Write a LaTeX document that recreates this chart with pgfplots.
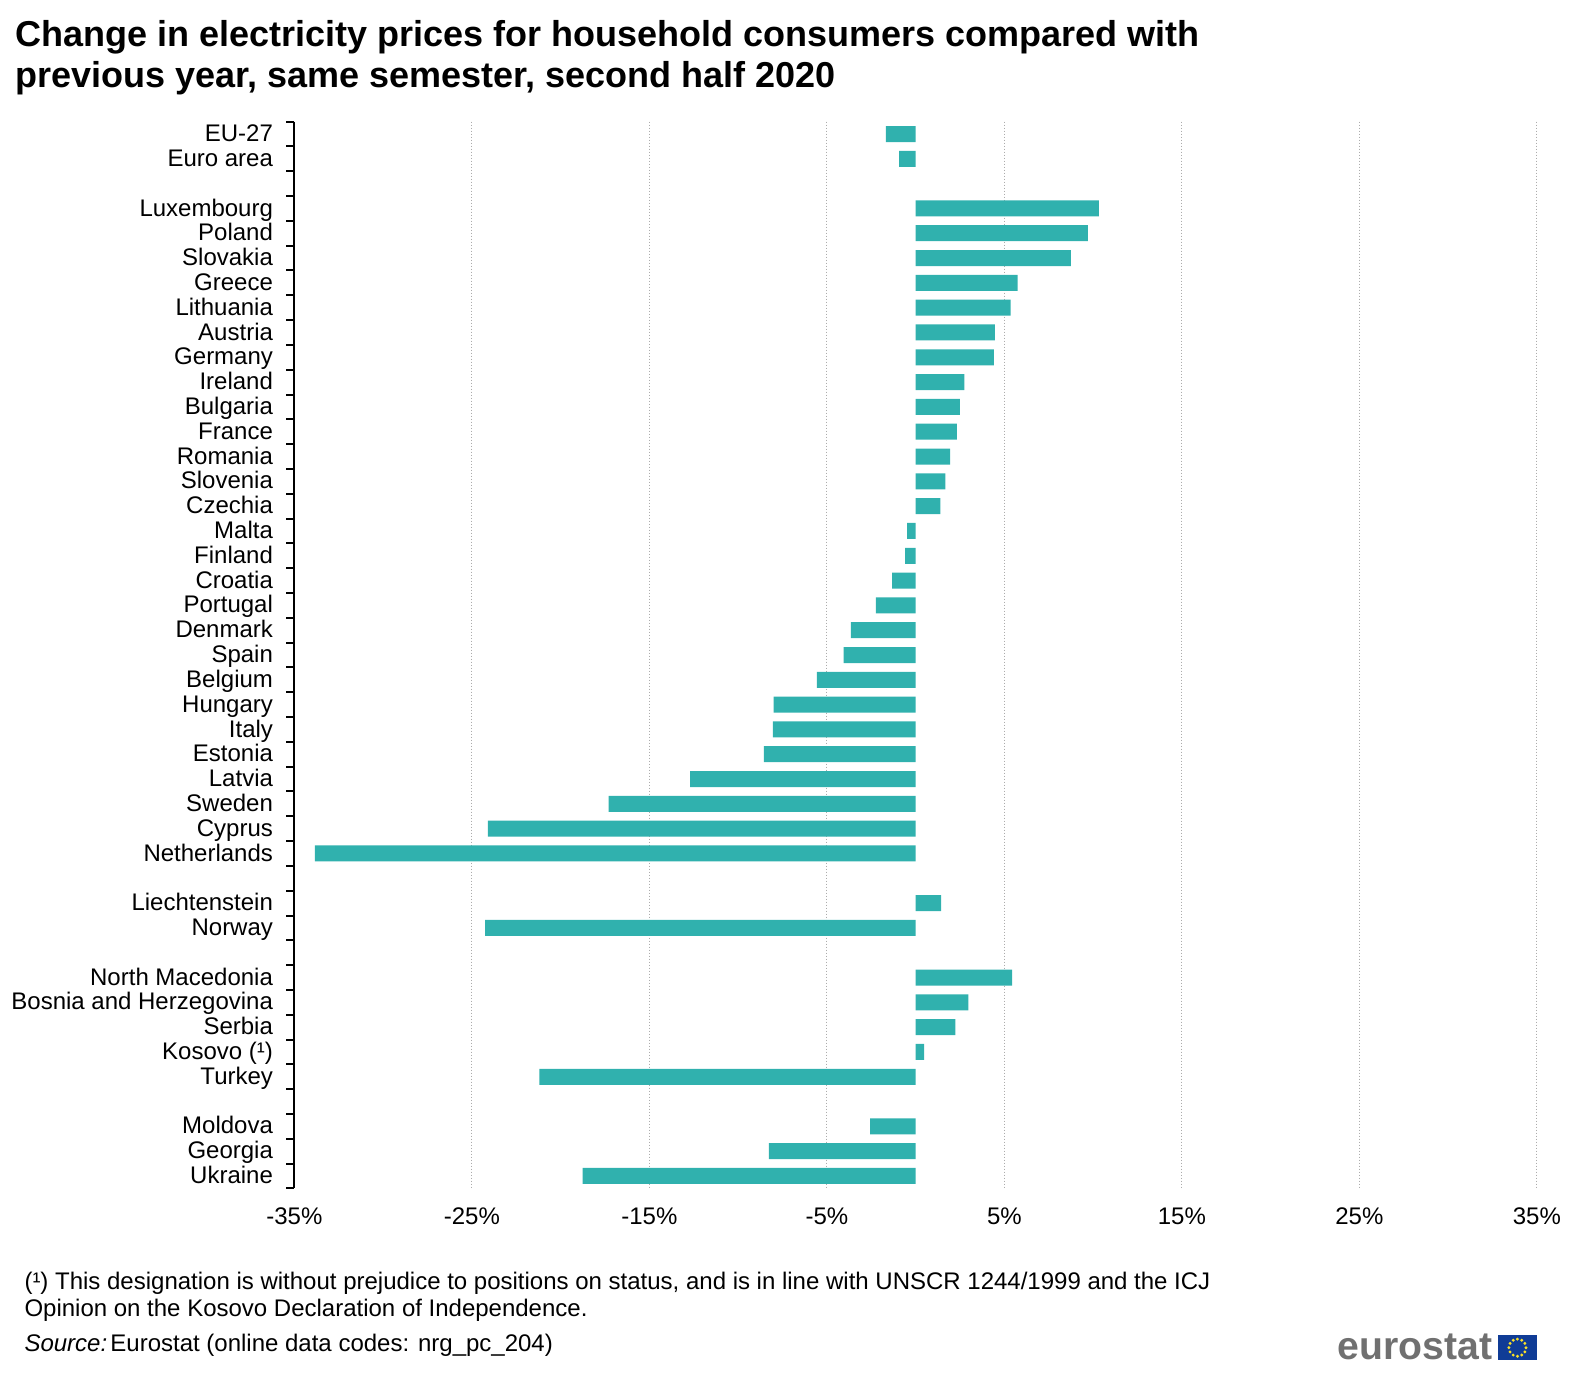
\documentclass[border=0pt]{standalone}
\usepackage{pgfplots}
\pgfplotsset{compat=1.18}
\usepackage{fontspec}
\setmainfont{Liberation Sans}
\definecolor{barc}{RGB}{48,177,174}
\definecolor{logogrey}{RGB}{112,112,112}
\definecolor{eublue}{RGB}{16,60,150}
\definecolor{euyellow}{RGB}{250,225,40}
\begin{document}
\begin{tikzpicture}[x=0.5023pt,y=-0.5023pt]
\path[use as bounding box] (0,0) rectangle (1567.8,1367.8);
\begin{axis}[
  at={(147.17pt,-594.2pt)}, anchor=south west,
  scale only axis, width=621.3pt, height=533.4pt,
  xmin=-35, xmax=35, ymin=-0.5, ymax=42.5, y dir=reverse,
  axis y line=left, axis x line=bottom,
  x axis line style={draw=none,-},
  y axis line style={-,line width=1pt,black},
  xtick={-35,-25,-15,-5,5,15,25,35},
  xticklabels={-35\%,-25\%,-15\%,-5\%,5\%,15\%,25\%,35\%},
  xmajorgrids,
  grid style={line width=0.45pt,gray!65,dash pattern=on 0.9pt off 0.6pt},
  major x tick style={draw=none},
  xticklabel style={font=\fontsize{12pt}{14pt}\selectfont,inner sep=0pt,text height=8.5pt,text depth=0pt,anchor=north,yshift=-9.5pt},
  ytick={0,...,42},
  yticklabels={EU-27,Euro area,,Luxembourg,Poland,Slovakia,Greece,Lithuania,Austria,Germany,Ireland,Bulgaria,France,Romania,Slovenia,Czechia,Malta,Finland,Croatia,Portugal,Denmark,Spain,Belgium,Hungary,Italy,Estonia,Latvia,Sweden,Cyprus,Netherlands,,Liechtenstein,Norway,,North Macedonia,Bosnia and Herzegovina,Serbia,Kosovo (¹),Turkey,,Moldova,Georgia,Ukraine},
  major y tick style={draw=none},
  major tick length=0pt,
  minor ytick={-0.5,0.5,...,42.5},
  minor tick length=4pt,
  minor tick style={line width=1pt,black},
  tick align=outside,
  yticklabel style={font=\fontsize{12pt}{14pt}\selectfont,inner sep=0pt,text height=8.5pt,text depth=2.5pt,anchor=east,xshift=-10.5pt,yshift=-0.8pt},
  xbar, bar width=8pt, bar shift=0pt,
  clip=false,
]
\addplot[fill=barc,draw=none] coordinates {
(-1.67,0) (-0.93,1)
(10.33,3) (9.70,4) (8.74,5) (5.74,6) (5.35,7) (4.47,8) (4.41,9) (2.74,10) (2.49,11) (2.32,12) (1.95,13) (1.67,14) (1.39,15)
(-0.48,16) (-0.59,17) (-1.33,18) (-2.24,19) (-3.65,20) (-4.05,21) (-5.57,22) (-8.00,23) (-8.04,24) (-8.55,25) (-12.70,26) (-17.30,27) (-24.10,28) (-33.84,29)
(1.44,31) (-24.25,32)
(5.43,34) (2.97,35) (2.24,36) (0.48,37) (-21.20,38)
(-2.57,40) (-8.26,41) (-18.76,42)
};
\end{axis}
\node[anchor=base west,inner sep=0pt] at (15,46) {\fontsize{18pt}{20pt}\selectfont\bfseries Change in electricity prices for household consumers compared with};
\node[anchor=base west,inner sep=0pt] at (15,87) {\fontsize{18pt}{20pt}\selectfont\bfseries previous year, same semester, second half 2020};
\node[anchor=base west,inner sep=0pt] at (24,1284) {\fontsize{12pt}{14pt}\selectfont (¹) This designation is without prejudice to positions on status, and is in line with UNSCR 1244/1999 and the ICJ};
\node[anchor=base west,inner sep=0pt] at (24,1310) {\fontsize{12pt}{14pt}\selectfont Opinion on the Kosovo Declaration of Independence.};
\node[anchor=base west,inner sep=0pt] at (24,1345) {\fontsize{12pt}{14pt}\selectfont \textit{Source:}\hspace*{1.6pt}Eurostat (online data codes: nrg\_pc\_204)};
\node[anchor=base east,inner sep=0pt,text=logogrey] at (1486,1353) {\fontsize{19.6pt}{20pt}\selectfont\bfseries eurostat};
\fill[eublue] (1491,1329) rectangle (1530,1354);
\foreach \a in {0,30,...,330}
  \fill[euyellow] ({1510.5+8.5*cos(\a)},{1341.5+8.5*sin(\a)}) circle[radius=0.8pt];
\end{tikzpicture}
\end{document}
